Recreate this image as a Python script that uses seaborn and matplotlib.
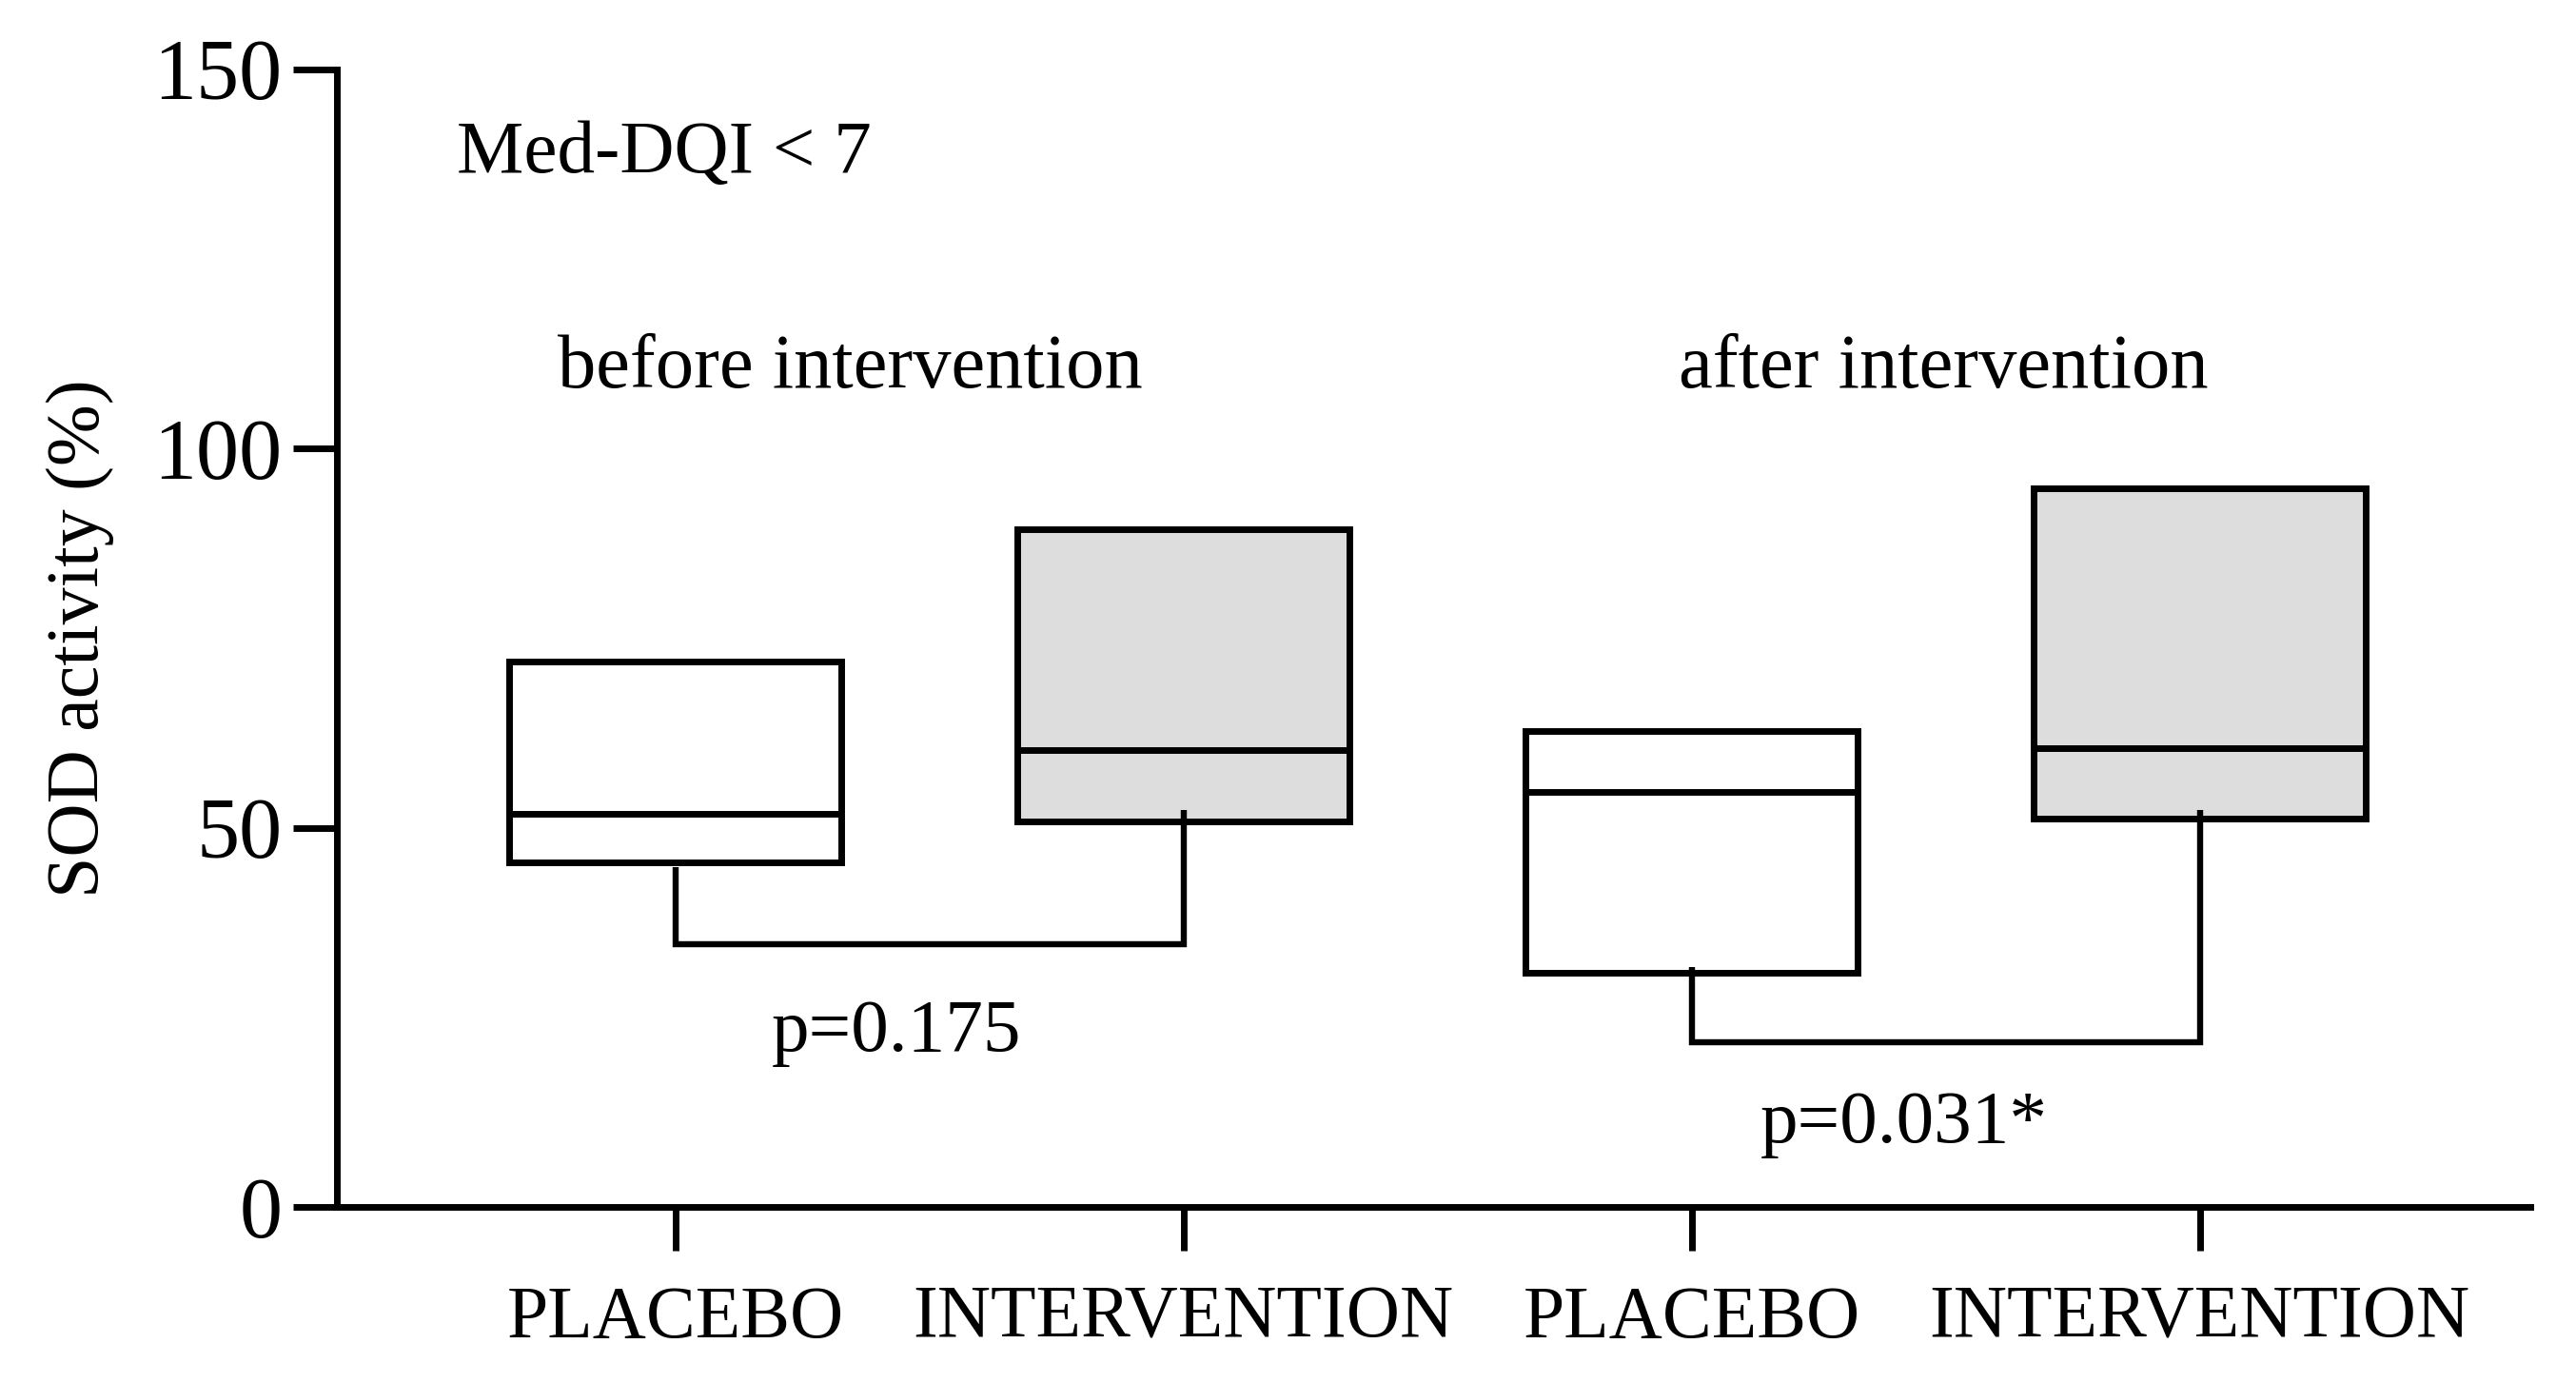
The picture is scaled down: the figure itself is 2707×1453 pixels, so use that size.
import matplotlib
matplotlib.use("Agg")
import matplotlib.pyplot as plt
import seaborn as sns
import pandas as pd

# box statistics (SOD activity, %)
groups = ["before_placebo", "before_intervention", "after_placebo", "after_intervention"]
tick_labels = ["PLACEBO", "INTERVENTION", "PLACEBO", "INTERVENTION"]
q1 = [45.5, 50.9, 30.9, 51.2]
median = [51.9, 60.2, 54.7, 60.5]
q3 = [71.9, 89.3, 62.7, 94.8]
fills = ["white", "#dddddd", "white", "#dddddd"]

# comparison brackets (placebo -> intervention)
bracket_pairs = [(0, 1), (2, 3)]
bracket_low = [34.7, 21.8]
bracket_left_top = [44.8, 31.7]
bracket_right_top = [52.4, 52.4]
p_labels = ["p=0.175", "p=0.031*"]
p_x = [0.434, 2.417]
p_y = [20.6, 8.6]

# five values per box so that the quartiles and median land on the read values
rows = []
for g, a, m, b in zip(groups, q1, median, q3):
    for v in (a, a, m, b, b):
        rows.append({"group": g, "value": v})
df = pd.DataFrame(rows)

sns.set_style("ticks")
plt.rcParams["font.family"] = ["Liberation Serif", "DejaVu Serif"]
plt.rcParams["text.color"] = "black"
plt.rcParams["axes.labelcolor"] = "black"
plt.rcParams["xtick.color"] = "black"
plt.rcParams["ytick.color"] = "black"
plt.rcParams["axes.edgecolor"] = "black"

fig = plt.figure(figsize=(27.07, 14.53), dpi=100)
ax = fig.add_axes([0.1307, 0.1271, 0.8514, 0.8230])

lw = 5
sns.boxplot(data=df, x="group", y="value", hue="group", order=groups,
            palette=dict(zip(groups, fills)), legend=False, width=0.654,
            whis=0, showcaps=False, showfliers=False, linecolor="black",
            linewidth=lw, boxprops={"edgecolor": "black", "linewidth": lw},
            medianprops={"color": "black", "linewidth": lw},
            whiskerprops={"linewidth": 0}, ax=ax)

for (i, j), low, lt, rt in zip(bracket_pairs, bracket_low, bracket_left_top, bracket_right_top):
    ax.plot([i, i, j, j], [lt, low, low, rt], color="black", lw=4.6,
            solid_joinstyle="miter", solid_capstyle="butt")

for x, y, t in zip(p_x, p_y, p_labels):
    ax.text(x, y, t, ha="center", va="baseline", fontsize=57)

ax.text(-0.43, 136.4, "Med-DQI < 7", ha="left", va="baseline", fontsize=57)
ax.text(0.343, 108.0, "before intervention", ha="center", va="baseline", fontsize=58)
ax.text(2.495, 108.0, "after intervention", ha="center", va="baseline", fontsize=58)

ax.set_xlim(-0.667, 3.65)
ax.set_ylim(0, 150)
ax.set_yticks([0, 50, 100, 150])
ax.set_xticks(range(len(groups)))
ax.set_xticklabels(tick_labels)
ax.set_xlabel("")
ax.set_ylabel("SOD activity (%)", fontsize=56, labelpad=30)

sns.despine(ax=ax)
for s in ("left", "bottom"):
    ax.spines[s].set_linewidth(5)
ax.tick_params(axis="y", length=33, width=5, labelsize=65, pad=8)
ax.tick_params(axis="x", length=33, width=5, labelsize=56, pad=26)

fig.savefig("out.png", dpi=100)
